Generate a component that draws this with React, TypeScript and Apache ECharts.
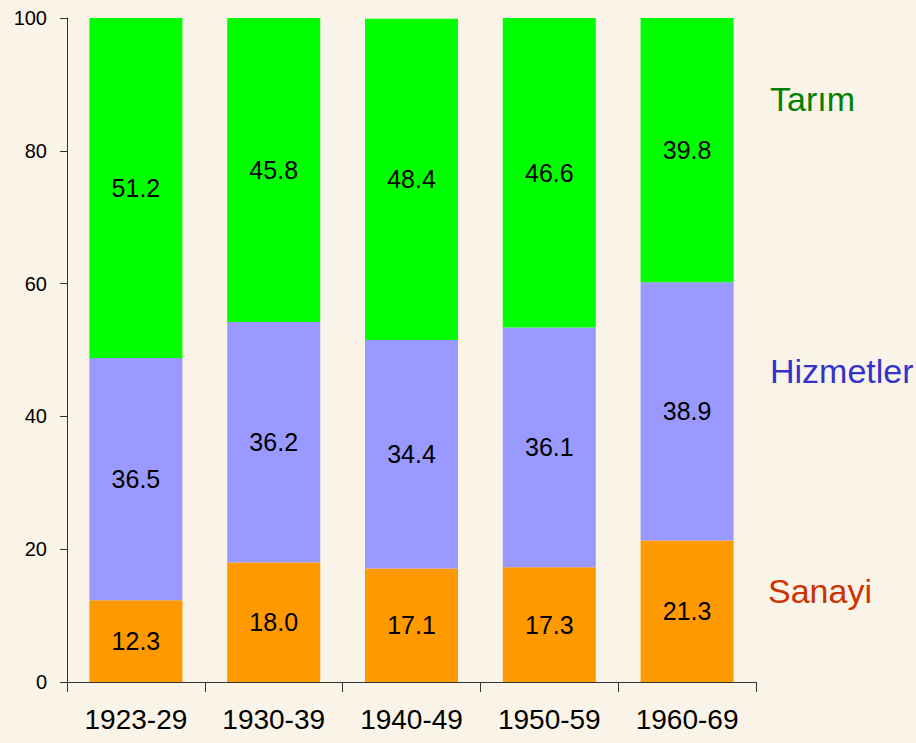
import React, { useEffect, useRef } from "react";
import * as echarts from "echarts";

const categories = ["1923-29", "1930-39", "1940-49", "1950-59", "1960-69"];
const sanayi = [12.3, 18.0, 17.1, 17.3, 21.3];
const hizmetler = [36.5, 36.2, 34.4, 36.1, 38.9];
const tarim = [51.2, 45.8, 48.4, 46.6, 39.8];
const seriesNames = ["Sanayi", "Hizmetler", "Tarım"];

export default function App() {
  const ref = useRef<HTMLDivElement>(null);
  useEffect(() => {
    if (!ref.current) return;
    const chart = echarts.init(ref.current, undefined, { renderer: "svg" });
    const font = "Liberation Sans, Arial, Helvetica, sans-serif";
    const label = {
      show: true,
      position: "inside" as const,
      color: "#000",
      fontSize: 25,
      fontFamily: font,
      formatter: (p: any) => Number(p.value).toFixed(1),
    };
    chart.setOption({
      animation: false,
      backgroundColor: "#FAF3E8",
      grid: { left: 67, right: 160, top: 18, bottom: 61, containLabel: false },
      xAxis: {
        type: "category",
        data: categories,
        axisLine: { lineStyle: { color: "#333", width: 1 } },
        axisTick: { show: true, length: 10, lineStyle: { color: "#333" } },
        axisLabel: { color: "#000", fontSize: 28, fontFamily: font, margin: 23 },
      },
      yAxis: {
        type: "value",
        min: 0,
        max: 100,
        interval: 20,
        axisLine: { show: true, lineStyle: { color: "#333", width: 1 } },
        axisTick: { show: true, length: 7, lineStyle: { color: "#333" } },
        splitLine: { show: false },
        axisLabel: { color: "#000", fontSize: 20, fontFamily: font, margin: 20 },
      },
      series: [
        { name: seriesNames[0], type: "bar", stack: "a", data: sanayi, barWidth: 93, itemStyle: { color: "#FF9900" }, label },
        { name: seriesNames[1], type: "bar", stack: "a", data: hizmetler, barWidth: 93, itemStyle: { color: "#9999FF" }, label },
        { name: seriesNames[2], type: "bar", stack: "a", data: tarim, barWidth: 93, itemStyle: { color: "#00FF00" }, label },
      ],
      graphic: [
        { type: "text", left: 770, top: 82, style: { text: seriesNames[2], fill: "#008000", fontSize: 34, fontFamily: font } },
        { type: "text", left: 770, top: 354, style: { text: seriesNames[1], fill: "#3333CC", fontSize: 34, fontFamily: font } },
        { type: "text", left: 768, top: 574, style: { text: seriesNames[0], fill: "#CC3300", fontSize: 34, fontFamily: font } },
      ],
    });
    return () => chart.dispose();
  }, []);
  return (
    <div
      ref={ref}
      style={{ position: "fixed", left: 0, top: 0, width: 916, height: 743 }}
    />
  );
}
